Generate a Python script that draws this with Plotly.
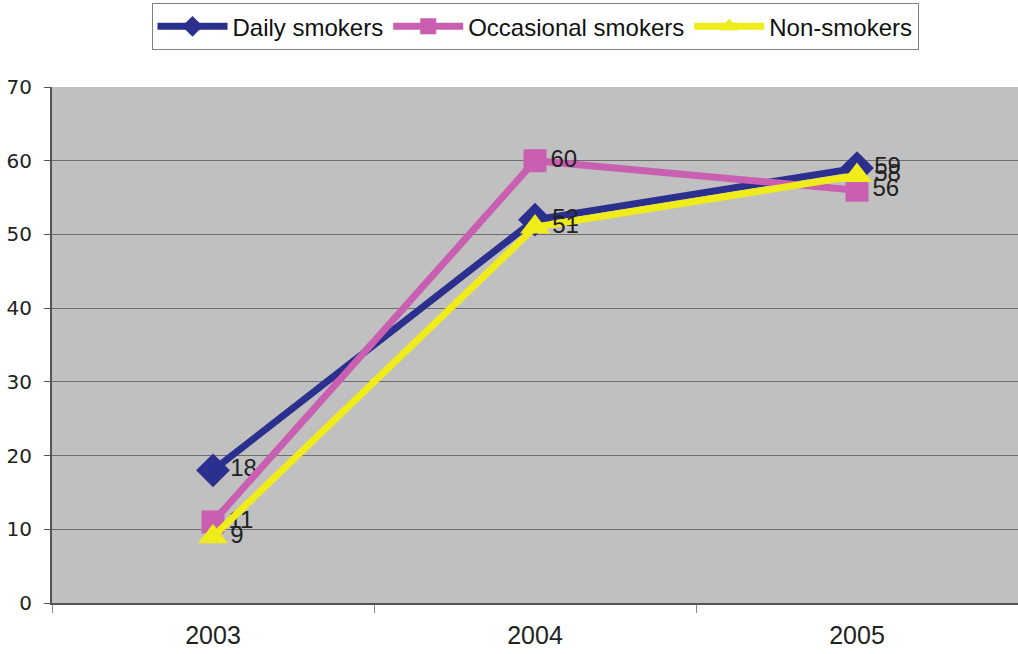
import plotly.graph_objects as go

years = ["2003", "2004", "2005"]
daily = [18, 52, 59]
occasional = [11, 60, 56]
non_smokers = [9, 51, 58]

series = [
    ("Daily smokers", daily, "#2B2F8E", "diamond", 26),
    ("Occasional smokers", occasional, "#C95FB0", "square", 23),
    ("Non-smokers", non_smokers, "#F0EC1A", "triangle-up", 26),
]

x = list(range(len(years)))

fig = go.Figure()
for name, vals, color, symbol, msize in series:
    fig.add_trace(go.Scatter(
        x=x, y=vals, name=name,
        mode="lines+markers+text",
        line=dict(color=color, width=7),
        marker=dict(symbol=symbol, size=msize, color=color,
                    line=dict(width=0)),
        text=[str(v) for v in vals],
        textposition="middle right",
        textfont=dict(family="Liberation Sans, Arial, sans-serif",
                      size=24, color="#222222"),
        cliponaxis=False,
    ))

fig.update_layout(
    width=1018, height=654,
    margin=dict(l=52, r=0, t=87, b=51),
    paper_bgcolor="white",
    plot_bgcolor="#C0C0C0",
    showlegend=True,
    legend=dict(
        orientation="h",
        x=0.5, xanchor="center",
        y=0.995, yref="container", yanchor="top",
        bordercolor="#808080", borderwidth=1,
        bgcolor="white",
        font=dict(family="Liberation Sans, Arial, sans-serif",
                  size=24, color="#111111"),
        itemwidth=70,
    ),
    xaxis=dict(
        range=[-0.5, 2.5],
        tickvals=x, ticktext=years,
        ticks="",
        showgrid=False,
        showline=True, linecolor="#555555", linewidth=2,
        tickfont=dict(family="Liberation Sans, Arial, sans-serif",
                      size=25, color="#222222"),
        ticklabelstandoff=9,
        minor=dict(tickvals=[-0.5, 0.5, 1.5, 2.5], ticks="outside",
                   ticklen=8, tickcolor="#888888", showgrid=False),
        zeroline=False,
    ),
    yaxis=dict(
        range=[0, 70], dtick=10,
        ticks="outside", ticklen=6, tickcolor="#555555",
        showgrid=True, gridcolor="#6E6E6E", gridwidth=1,
        showline=True, linecolor="#555555", linewidth=2,
        tickfont=dict(family="DejaVu Sans, Verdana, sans-serif",
                      size=20, color="#222222"),
        ticklabelstandoff=8,
        zeroline=False,
    ),
)

fig.write_html("out.html")
